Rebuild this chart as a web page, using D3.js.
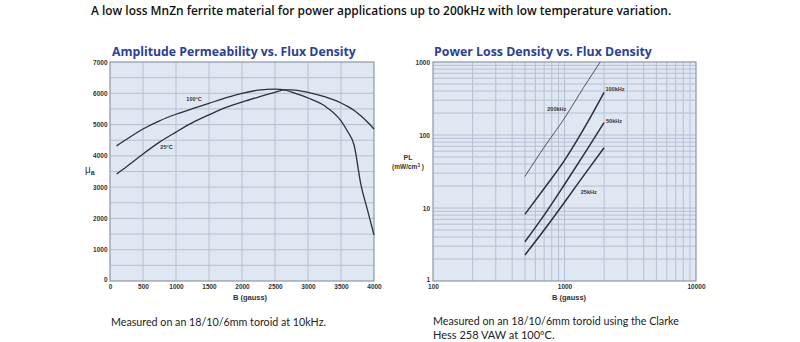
<!DOCTYPE html>
<html>
<head>
<meta charset="utf-8">
<script src="https://cdn.jsdelivr.net/npm/d3@7"></script>
<style>
  html, body { margin: 0; padding: 0; background: #fff; }
  svg { display: block; }
</style>
</head>
<body>
<svg id="chart" width="800" height="342"></svg>
<script>
// ---------- DATA ----------
const headerText = "A low loss MnZn ferrite material for power applications up to 200kHz with low temperature variation.";

// Left chart: amplitude permeability vs flux density
const permTitle = "Amplitude Permeability vs. Flux Density";
const permB =    [100, 250, 500, 750, 1000, 1250, 1500, 1750, 2000, 2250, 2500, 2650, 2750, 3000, 3250, 3500, 3600, 3700, 3800, 3900, 4000];
const perm100C = [4320, 4530, 4860, 5120, 5330, 5510, 5680, 5850, 6000, 6100, 6135, 6110, 6040, 5850, 5600, 5120, 4780, 4330, 3100, 2280, 1470];
const perm25C  = [3420, 3650, 4060, 4440, 4760, 5060, 5310, 5540, 5720, 5880, 6030, 6110, 6110, 6030, 5890, 5690, 5580, 5450, 5280, 5080, 4860];
const permSeriesNames = ["100°C", "25°C"];
const permXTicks = [0, 500, 1000, 1500, 2000, 2500, 3000, 3500, 4000];
const permYTicks = [0, 1000, 2000, 3000, 4000, 5000, 6000, 7000];
const permNote = "Measured on an 18/10/6mm toroid at 10kHz.";

// Right chart: power loss density vs flux density
const lossTitle = "Power Loss Density vs. Flux Density";
const loss200B = [500, 700, 1000, 1400, 1870];
const loss200  = [27, 68, 170, 450, 1000];
const loss100B = [500, 700, 1000, 1500, 2000];
const loss100  = [8.2, 18.5, 45, 150, 384];
const loss50B  = [500, 700, 1000, 1500, 2000];
const loss50   = [3.45, 8.0, 21, 65, 148];
const loss25B  = [500, 700, 1000, 1500, 2000];
const loss25   = [2.27, 5.0, 12, 33, 67];
const lossSeriesNames = ["200kHz", "100kHz", "50kHz", "25kHz"];
const lossXTicks = [100, 1000, 10000];
const lossYTicks = [1, 10, 100, 1000];
const lossNote = ["Measured on an 18/10/6mm toroid using the Clarke", "Hess 258 VAW at 100ºC."];

// ---------- DRAW ----------
const svg = d3.select("#chart");
const ink = "#2b313c";
const plotBg = "#dfe7f3";
const gridCol = "#b5c0d3";
const borderCol = "#8e97a5";
const titleCol = "#2c3f94";
const tickFont = "'Liberation Sans', Arial, sans-serif";
const textFont = "'Open Sans', 'Noto Sans', sans-serif";
const noteFont = "Lato, 'Open Sans', sans-serif";

function fitWidth(sel, w) {
  const node = sel.node();
  const fs = parseFloat(sel.attr("font-size"));
  const cur = node.getComputedTextLength();
  if (cur > 0) sel.attr("font-size", (fs * w / cur).toFixed(2));
}

// Header
svg.append("text").attr("x", 91).attr("y", 15)
  .attr("font-family", textFont).attr("font-weight", 600).attr("font-size", 12)
  .attr("fill", "#111").text(headerText)
  .call(s => fitWidth(s, 581));

// ===== Left chart =====
const L = {x0: 110, x1: 374, y0: 62, y1: 281};
const xP = d3.scaleLinear().domain([0, 4000]).range([L.x0, L.x1]);
const yP = d3.scaleLinear().domain([0, 7000]).range([L.y1, L.y0]);
const gL = svg.append("g");
gL.append("rect").attr("x", L.x0).attr("y", L.y0).attr("width", L.x1 - L.x0).attr("height", L.y1 - L.y0).attr("fill", plotBg);
gL.append("g").selectAll("line").data(d3.range(500, 4000, 500)).join("line")
  .attr("x1", d => xP(d)).attr("x2", d => xP(d)).attr("y1", L.y0).attr("y2", L.y1)
  .attr("stroke", gridCol).attr("stroke-width", 1);
gL.append("g").selectAll("line").data(d3.range(500, 7000, 500)).join("line")
  .attr("y1", d => yP(d)).attr("y2", d => yP(d)).attr("x1", L.x0).attr("x2", L.x1)
  .attr("stroke", gridCol).attr("stroke-width", 1);
gL.append("rect").attr("x", L.x0).attr("y", L.y0).attr("width", L.x1 - L.x0).attr("height", L.y1 - L.y0)
  .attr("fill", "none").attr("stroke", borderCol).attr("stroke-width", 1.2);

const xAxL = gL.append("g").attr("transform", `translate(0,${L.y1})`)
  .call(d3.axisBottom(xP).tickValues(permXTicks).tickSize(0).tickPadding(3.5).tickFormat(d3.format("d")));
const yAxL = gL.append("g").attr("transform", `translate(${L.x0},0)`)
  .call(d3.axisLeft(yP).tickValues(permYTicks).tickSize(0).tickPadding(2.5).tickFormat(d3.format("d")));
[xAxL, yAxL].forEach(a => {
  a.select(".domain").remove();
  a.selectAll("text").attr("font-family", tickFont).attr("font-weight", "bold").attr("font-size", 6.5).attr("fill", "#333");
});
yAxL.selectAll(".tick text").filter(d => d === 0).attr("dy", "0.05em");

const lineP = d3.line().x(d => xP(d[0])).y(d => yP(d[1])).curve(d3.curveMonotoneX);
[perm100C, perm25C].forEach(vals => {
  gL.append("path").datum(permB.map((b, i) => [b, vals[i]]))
    .attr("d", lineP).attr("fill", "none").attr("stroke", ink).attr("stroke-width", 1.3);
});
const permLabelPos = [[1273, 5750], [856, 4220]];
permSeriesNames.forEach((n, i) => {
  gL.append("text").attr("x", xP(permLabelPos[i][0])).attr("y", yP(permLabelPos[i][1]))
    .attr("font-family", tickFont).attr("font-weight", "bold").attr("font-size", 5.5)
    .attr("fill", "#333").attr("text-anchor", "middle").text(n);
});

gL.append("text").attr("x", 250).attr("y", 299.5).attr("text-anchor", "middle")
  .attr("font-family", tickFont).attr("font-weight", "bold").attr("font-size", 7.5).attr("fill", "#333")
  .text("B (gauss)");
const mu = gL.append("text").attr("x", 85).attr("y", 173).attr("font-family", tickFont).attr("fill", "#333");
mu.append("tspan").attr("font-size", 10).text("μ");
mu.append("tspan").attr("font-size", 7).attr("font-weight", "bold").attr("dy", 1.5).text("a");

svg.append("text").attr("x", 112).attr("y", 56)
  .attr("font-family", textFont).attr("font-weight", 700).attr("font-size", 14)
  .attr("fill", titleCol).text(permTitle).call(s => fitWidth(s, 244));

svg.append("text").attr("x", 111).attr("y", 326)
  .attr("font-family", noteFont).attr("font-size", 11).attr("fill", "#222")
  .text(permNote).call(s => fitWidth(s, 215));

// ===== Right chart =====
const R = {x0: 433, x1: 696, y0: 62, y1: 281};
const xL = d3.scaleLog().domain([100, 10000]).range([R.x0, R.x1]);
const yL = d3.scaleLog().domain([1, 1000]).range([R.y1, R.y0]);
const gR = svg.append("g");
gR.append("rect").attr("x", R.x0).attr("y", R.y0).attr("width", R.x1 - R.x0).attr("height", R.y1 - R.y0).attr("fill", plotBg);
const vGrid = [];
[100, 1000].forEach(dec => { for (let k = 2; k <= 9; k++) vGrid.push(dec * k); });
vGrid.push(1000);
const hGrid = [];
[1, 10, 100].forEach(dec => { for (let k = 2; k <= 9; k++) hGrid.push(dec * k); });
hGrid.push(10, 100);
gR.append("g").selectAll("line").data(vGrid).join("line")
  .attr("x1", d => xL(d)).attr("x2", d => xL(d)).attr("y1", R.y0).attr("y2", R.y1)
  .attr("stroke", gridCol).attr("stroke-width", 1);
gR.append("g").selectAll("line").data(hGrid).join("line")
  .attr("y1", d => yL(d)).attr("y2", d => yL(d)).attr("x1", R.x0).attr("x2", R.x1)
  .attr("stroke", gridCol).attr("stroke-width", 1);
gR.append("rect").attr("x", R.x0).attr("y", R.y0).attr("width", R.x1 - R.x0).attr("height", R.y1 - R.y0)
  .attr("fill", "none").attr("stroke", borderCol).attr("stroke-width", 1.2);

const xAxR = gR.append("g").attr("transform", `translate(0,${R.y1})`)
  .call(d3.axisBottom(xL).tickValues(lossXTicks).tickSize(0).tickPadding(3.5).tickFormat(d3.format("d")));
const yAxR = gR.append("g").attr("transform", `translate(${R.x0},0)`)
  .call(d3.axisLeft(yL).tickValues(lossYTicks).tickSize(0).tickPadding(3).tickFormat(d3.format("d")));
[xAxR, yAxR].forEach(a => {
  a.select(".domain").remove();
  a.selectAll("text").attr("font-family", tickFont).attr("font-weight", "bold").attr("font-size", 6.5).attr("fill", "#333");
});
yAxR.selectAll(".tick text").filter(d => d === 1).attr("dy", "0.0em");

const lineL = d3.line().x(d => xL(d[0])).y(d => yL(d[1])).curve(d3.curveMonotoneX);
const lossSeries = [[loss200B, loss200, 0.8], [loss100B, loss100, 1.5], [loss50B, loss50, 1.5], [loss25B, loss25, 1.5]];
lossSeries.forEach(([bs, vs, w]) => {
  gR.append("path").datum(bs.map((b, i) => [b, vs[i]]))
    .attr("d", lineL).attr("fill", "none").attr("stroke", ink).attr("stroke-width", w);
});
const lossLabelPos = [[740, 213], [2050, 400], [2070, 146], [1330, 15.5]];
lossSeriesNames.forEach((n, i) => {
  gR.append("text").attr("x", xL(lossLabelPos[i][0])).attr("y", yL(lossLabelPos[i][1]))
    .attr("font-family", tickFont).attr("font-weight", "bold").attr("font-size", 5.5)
    .attr("fill", "#333").text(n);
});

gR.append("text").attr("x", 569).attr("y", 299.5).attr("text-anchor", "middle")
  .attr("font-family", tickFont).attr("font-weight", "bold").attr("font-size", 7.5).attr("fill", "#333")
  .text("B (gauss)");
gR.append("text").attr("x", 408).attr("y", 160).attr("text-anchor", "middle")
  .attr("font-family", tickFont).attr("font-weight", "bold").attr("font-size", 7).attr("fill", "#333").text("PL");
const plu = gR.append("text").attr("x", 408).attr("y", 169).attr("text-anchor", "middle")
  .attr("font-family", tickFont).attr("font-weight", "bold").attr("font-size", 6.5).attr("fill", "#333");
plu.append("tspan").text("(mW/cm");
plu.append("tspan").attr("font-size", 4.5).attr("dy", -2.5).text("3");
plu.append("tspan").attr("dy", 2.5).text(" )");

svg.append("text").attr("x", 434).attr("y", 56)
  .attr("font-family", textFont).attr("font-weight", 700).attr("font-size", 14)
  .attr("fill", titleCol).text(lossTitle).call(s => fitWidth(s, 218));

lossNote.forEach((t, i) => {
  svg.append("text").attr("x", 433).attr("y", 325 + i * 13.5)
    .attr("font-family", noteFont).attr("font-size", 11).attr("fill", "#222")
    .text(t).call(s => { if (i === 0) fitWidth(s, 246); });
});
</script>
</body>
</html>
